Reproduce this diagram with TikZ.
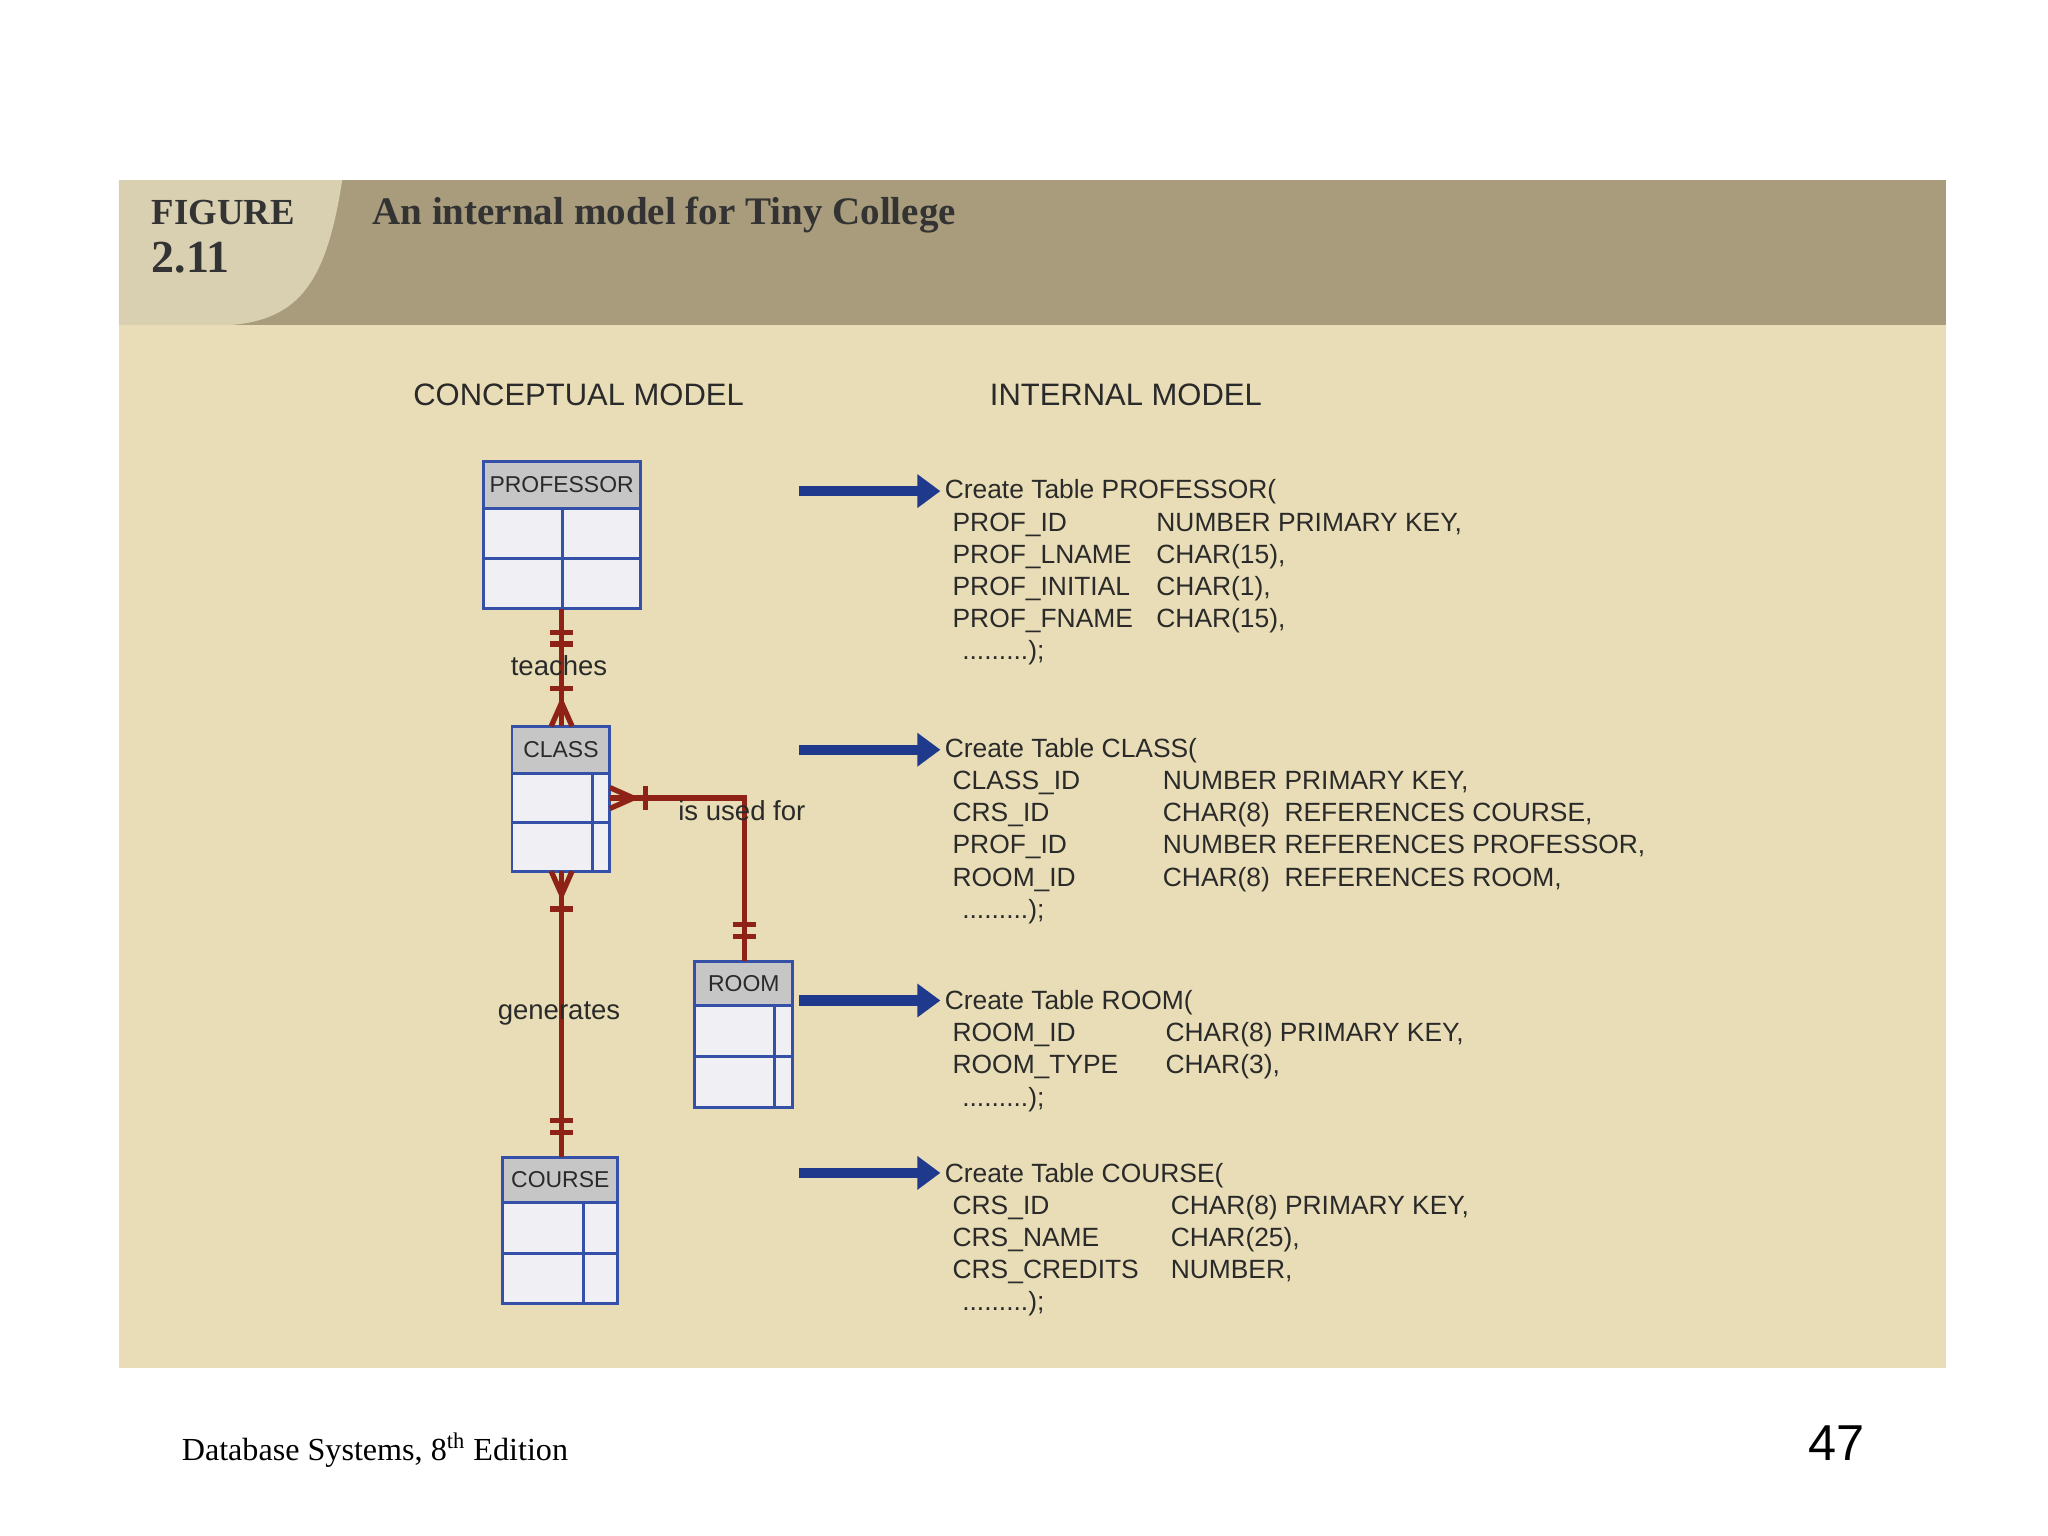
\documentclass[tikz,border=0pt]{standalone}
\usepackage{fontspec}
\setmainfont{Liberation Sans}
\newfontfamily\serifff{Liberation Serif}
\usetikzlibrary{fit,arrows.meta}
\definecolor{bodyc}{HTML}{E8DDB6}
\definecolor{headc}{HTML}{A89C7C}
\definecolor{tabc}{HTML}{D9D0B2}
\definecolor{relc}{HTML}{8E2216}
\definecolor{boxc}{HTML}{3550A8}
\definecolor{arrc}{HTML}{1F3A8C}
\definecolor{txtc}{HTML}{2A2A2A}
\definecolor{cellc}{HTML}{F0F0F4}
\tikzset{
  rel/.style={draw=relc,line width=2.3pt},
  lbl/.style={font=\fontsize{12}{14}\selectfont,text=txtc,inner sep=1pt,fill=none},
  sql/.style={anchor=base west,font=\fontsize{11.5}{14}\selectfont,text=txtc,inner sep=0pt},
  bigarrow/.style={draw=arrc,line width=4.5pt,-{Triangle[length=10pt,width=14pt]}},
  hdr/.style={font=\fontsize{10}{12}\selectfont,text=txtc}
}
\newcommand\ent[8]{% name x1 y1 x2 y2 yh xd label
  \fill[cellc] (#2,#3) rectangle (#4,#5);
  \fill[gray!45!white] (#2,#3) rectangle (#4,#6);
  \draw[boxc,line width=1.3pt] (#2,#3) rectangle (#4,#5);
  \draw[boxc,line width=1.3pt] (#2,#6) -- (#4,#6);
  \draw[boxc,line width=1.3pt] (#7,#6) -- (#7,#5);
  \draw[boxc,line width=1.3pt] (#2,{(#6+#5)/2}) -- (#4,{(#6+#5)/2});
  \coordinate (#1a) at (#2,#3); \coordinate (#1b) at (#4,#5);
  \node[inner sep=0,fit=(#1a)(#1b)] (#1) {};
  \node[hdr] at ({(#2+#4)/2},{(#3+#6)/2}) {#8};
}
\begin{document}
\begin{tikzpicture}[x=0.02cm,y=-0.02cm]
\useasboundingbox (0,0) rectangle (1568,1176);
\fill[white] (0,0) rectangle (1568,1176);
\fill[bodyc] (91,249) rectangle (1490,1047);
\fill[headc] (91,138) rectangle (1490,249);
\fill[tabc] (91,138) -- (262,138) .. controls (250,215) and (230,245) .. (175,249) -- (91,249) -- cycle;
\node[anchor=base west,font=\serifff\bfseries\fontsize{16}{20}\selectfont,text=black!80] (fig) at (110,172) {FIGURE};
\node[anchor=base west,font=\serifff\bfseries\fontsize{20}{22}\selectfont,text=black!80] (num) at (110,209) {2.11};
\node[anchor=base west,font=\serifff\bfseries\fontsize{17}{20}\selectfont,text=black!80] (title) at (279,172) {An internal model for Tiny College};
\node[font=\fontsize{13.5}{15}\selectfont,text=txtc] (cm) at (443,302) {CONCEPTUAL MODEL};
\node[font=\fontsize{13.5}{15}\selectfont,text=txtc] (im) at (862,302) {INTERNAL MODEL};

\ent{prof}{370}{353}{490}{466}{389}{431}{PROFESSOR}
\ent{class}{392}{556}{467}{667}{592}{454}{CLASS}
\ent{room}{532}{736}{607}{848}{770}{593}{ROOM}
\ent{course}{385}{886}{473}{998}{921}{447}{COURSE}

% teaches
\coordinate (pt) at (430,466); \coordinate (ct) at (430,556);
\draw[rel] (pt) -- (ct);
\draw[rel] (421,484) -- (439,484) (421,493) -- (439,493) (421,527) -- (439,527);
\draw[rel] (422,556) -- (430,538) -- (438,556);
\node[lbl] (teaches) at (428,510) {teaches};
% generates
\coordinate (cb) at (430,667); \coordinate (cot) at (430,886);
\draw[rel] (cb) -- (cot);
\draw[rel] (422,667) -- (430,685) -- (438,667);
\draw[rel] (421,696) -- (439,696) (421,858) -- (439,858) (421,867) -- (439,867);
\node[lbl] (gen) at (428,776) {generates};
% is used for
\coordinate (cr) at (467,611); \coordinate (corner) at (570,611); \coordinate (rt) at (570,736);
\draw[rel] (cr) -- (corner) -- (rt);
\draw[rel] (467,603) -- (485,611) -- (467,619);
\draw[rel] (494,602) -- (494,620);
\draw[rel] (561,708) -- (579,708) (561,717) -- (579,717);
\node[lbl] (used) at (568,621) {is used for};

% arrows
\foreach \y/\n in {376/a1,574/a2,766/a3,898/a4}{
  \coordinate (\n s) at (612,\y); \coordinate (\n e) at (720,\y);
  \draw[bigarrow] (\n s) -- (\n e);
}
% SQL text
\newcommand\sqlblock[4]{% y, col2 x, header, list
  \node[sql] at (723,#1) {#3};
  \foreach \a/\b [count=\i] in {#4}{
    \node[sql] at (729,{#1+24.6*\i}) {\a};
    \node[sql] at (#2,{#1+24.6*\i}) {\b};
  }
}
\sqlblock{382}{885}{Create Table PROFESSOR(}{PROF\_ID/NUMBER PRIMARY KEY{,}, PROF\_LNAME/CHAR(15){,}, PROF\_INITIAL/CHAR(1){,}, PROF\_FNAME/CHAR(15){,}}
\node[sql] at (733,{382+24.6*5}) {\,.........);};
\sqlblock{580}{890}{Create Table CLASS(}{CLASS\_ID/NUMBER PRIMARY KEY{,}, CRS\_ID/CHAR(8)\ \ REFERENCES COURSE{,}, PROF\_ID/NUMBER REFERENCES PROFESSOR{,}, ROOM\_ID/CHAR(8)\ \ REFERENCES ROOM{,}}
\node[sql] at (733,{580+24.6*5}) {\,.........);};
\sqlblock{773}{892}{Create Table ROOM(}{ROOM\_ID/CHAR(8) PRIMARY KEY{,}, ROOM\_TYPE/CHAR(3){,}}
\node[sql] at (733,{773+24.6*3}) {\,.........);};
\sqlblock{905}{896}{Create Table COURSE(}{CRS\_ID/CHAR(8) PRIMARY KEY{,}, CRS\_NAME/CHAR(25){,}, CRS\_CREDITS/NUMBER{,}}
\node[sql] at (733,{905+24.6*4}) {\,.........);};

\node[anchor=base west,font=\serifff\fontsize{14}{16}\selectfont] (foot) at (133,1118) {Database Systems, 8\textsuperscript{th} Edition};
\node[anchor=base east,font=\fontsize{22}{24}\selectfont] (pg) at (1434,1118) {47};
\end{tikzpicture}
\end{document}
